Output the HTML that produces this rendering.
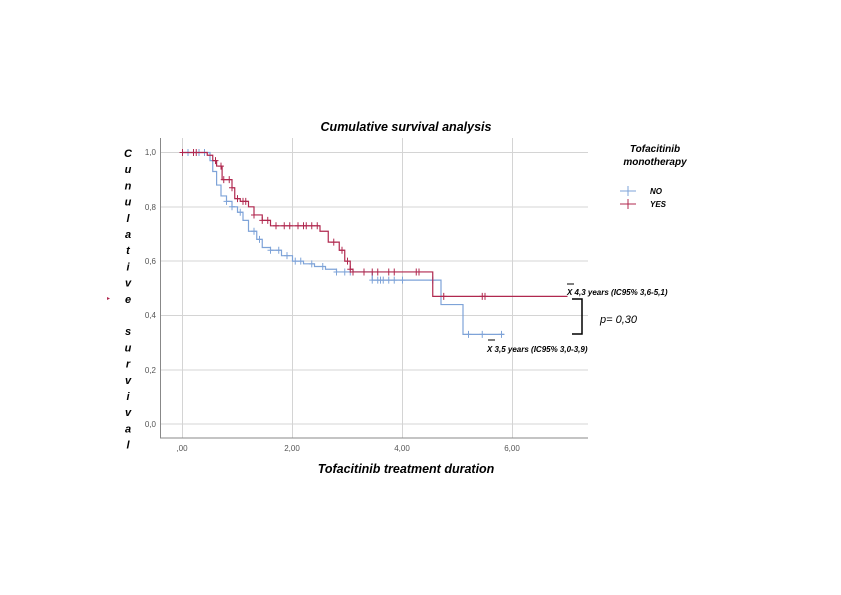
<!DOCTYPE html>
<html><head><meta charset="utf-8"><style>
body{margin:0;background:#fff;}
svg{display:block;font-family:"Liberation Sans",sans-serif;}
</style></head><body>
<svg id="s" width="841" height="595" viewBox="0 0 841 595" xmlns="http://www.w3.org/2000/svg">
<rect width="841" height="595" fill="#fff"/>
<g stroke="#d4d4d4" stroke-width="1">
<line x1="182.5" y1="138" x2="182.5" y2="438"/>
<line x1="292.5" y1="138" x2="292.5" y2="438"/>
<line x1="402.5" y1="138" x2="402.5" y2="438"/>
<line x1="512.5" y1="138" x2="512.5" y2="438"/>
<line x1="160" y1="152.5" x2="588" y2="152.5"/>
<line x1="160" y1="207" x2="588" y2="207"/>
<line x1="160" y1="261" x2="588" y2="261"/>
<line x1="160" y1="315.5" x2="588" y2="315.5"/>
<line x1="160" y1="370" x2="588" y2="370"/>
<line x1="160" y1="424" x2="588" y2="424"/>
</g>
<path d="M160.5 138V438H588" fill="none" stroke="#888" stroke-width="1"/>
<g font-size="8" fill="#555" text-anchor="end">
<text x="156" y="155">1,0</text><text x="156" y="210">0,8</text><text x="156" y="264">0,6</text>
<text x="156" y="318">0,4</text><text x="156" y="373">0,2</text><text x="156" y="427">0,0</text>
</g>
<g font-size="8" fill="#555" text-anchor="middle">
<text x="182" y="451">,00</text><text x="292" y="451">2,00</text><text x="402" y="451">4,00</text><text x="512" y="451">6,00</text>
</g>
<text x="406" y="131" font-size="12.5" font-weight="bold" font-style="italic" text-anchor="middle">Cumulative survival analysis</text>
<text x="406" y="473" font-size="12.5" font-weight="bold" font-style="italic" text-anchor="middle">Tofacitinib treatment duration</text>
<g id="ylab" font-size="11" font-weight="bold" font-style="italic" text-anchor="middle"></g>
<text x="655" y="152" font-size="10" font-weight="bold" font-style="italic" text-anchor="middle">Tofacitinib</text>
<text x="655" y="165" font-size="10" font-weight="bold" font-style="italic" text-anchor="middle">monotherapy</text>
<line x1="620" y1="191" x2="636" y2="191" stroke="#7ea3d8"/><line x1="628" y1="186" x2="628" y2="196" stroke="#7ea3d8"/>
<line x1="620" y1="204" x2="636" y2="204" stroke="#b0284f"/><line x1="628" y1="199" x2="628" y2="209" stroke="#b0284f"/>
<text x="650" y="194" font-size="8" font-weight="bold" font-style="italic">NO</text>
<text x="650" y="207" font-size="8" font-weight="bold" font-style="italic">YES</text>
<g id="curves"></g>
<line x1="567" y1="284" x2="574" y2="284" stroke="#000"/>
<text x="567" y="295" font-size="8" font-weight="bold" font-style="italic">X 4,3 years (IC95% 3,6-5,1)</text>
<line x1="488" y1="340" x2="495" y2="340" stroke="#000"/>
<text x="487" y="352" font-size="8" font-weight="bold" font-style="italic">X 3,5 years (IC95% 3,0-3,9)</text>
<path d="M572 299H582V334H572" fill="none" stroke="#000" stroke-width="1.5"/>
<text x="600" y="323" font-size="11" font-style="italic">p= 0,30</text>
<path d="M107 297l3 1.5-3 1.5z" fill="#b0284f"/>
</svg>
<script>
var ns="http://www.w3.org/2000/svg";
var lab="Cunulative survival".split("");
var g=document.getElementById("ylab");
lab.forEach(function(c,i){if(c==" ")return;var t=document.createElementNS(ns,"text");t.setAttribute("x",128);t.setAttribute("y",157+i*16.2);t.textContent=c;g.appendChild(t);});
function X(t){return 182.5+55*t;}function Y(s){return 424-271.5*s;}
function draw(steps,end,cens,col){
 var d="M"+X(0)+" "+Y(1),cur=1;
 steps.forEach(function(p){d+="H"+X(p[0])+"V"+Y(p[1]);cur=p[1];});
 d+="H"+X(end);
 var cg=document.getElementById("curves");
 var p=document.createElementNS(ns,"path");p.setAttribute("d",d);p.setAttribute("fill","none");p.setAttribute("stroke",col);p.setAttribute("stroke-width","1.2");cg.appendChild(p);
 cens.forEach(function(t){var s=1;steps.forEach(function(q){if(q[0]<=t)s=q[1];});
  var l=document.createElementNS(ns,"path");l.setAttribute("d","M"+(X(t)-3)+" "+Y(s)+"h6M"+X(t)+" "+(Y(s)-3.5)+"v7");l.setAttribute("stroke",col);l.setAttribute("stroke-width","1");cg.appendChild(l);});
}
draw([[0.5,0.97],[0.55,0.93],[0.62,0.88],[0.7,0.84],[0.8,0.82],[0.9,0.80],[1.0,0.78],[1.1,0.75],[1.2,0.71],[1.35,0.68],[1.45,0.65],[1.6,0.64],[1.8,0.62],[2.0,0.60],[2.2,0.59],[2.4,0.58],[2.6,0.57],[2.8,0.56],[3.45,0.53],[4.7,0.44],[5.1,0.33]],5.85,
[0.1,0.3,0.4,0.8,0.9,1.05,1.3,1.4,1.6,1.75,1.9,2.05,2.15,2.35,2.55,2.8,2.95,3.05,3.45,3.55,3.6,3.65,3.75,3.85,4.0,4.55,5.2,5.45,5.8],"#7ea3d8");
draw([[0.45,0.99],[0.55,0.97],[0.62,0.95],[0.72,0.90],[0.9,0.87],[0.95,0.83],[1.05,0.82],[1.2,0.80],[1.3,0.77],[1.45,0.75],[1.6,0.73],[2.5,0.71],[2.65,0.67],[2.85,0.64],[2.95,0.60],[3.05,0.57],[3.1,0.56],[4.55,0.47]],7.0,
[0.0,0.2,0.25,0.6,0.7,0.75,0.85,0.9,1.0,1.1,1.15,1.3,1.45,1.55,1.7,1.85,1.95,2.1,2.2,2.25,2.35,2.45,2.75,2.9,3.0,3.05,3.1,3.3,3.45,3.55,3.75,3.85,4.25,4.3,4.75,5.45,5.5],"#b0284f");
</script>
</body></html>
